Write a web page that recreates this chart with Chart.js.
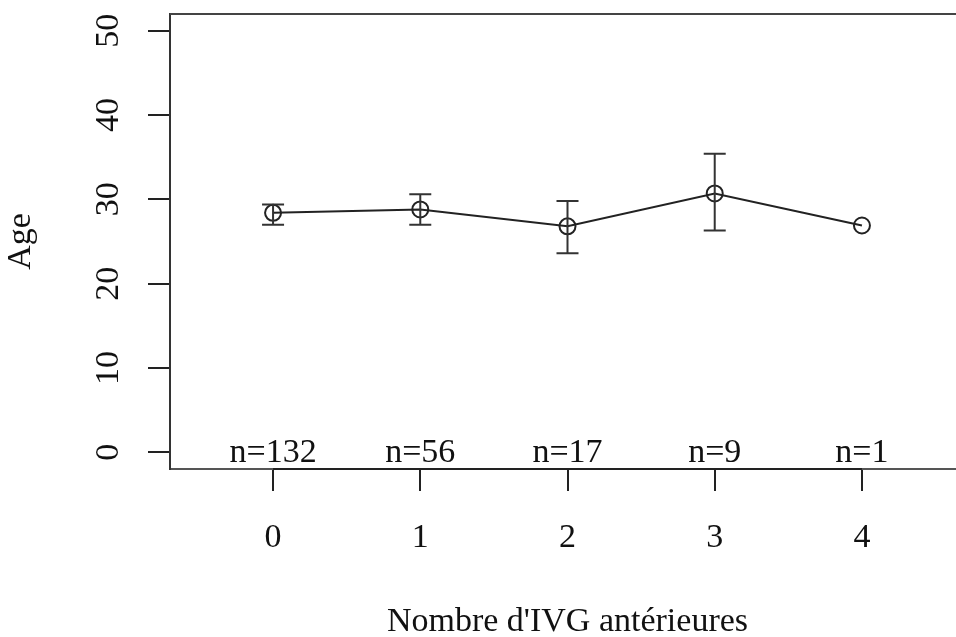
<!DOCTYPE html>
<html lang="fr">
<head>
    <meta charset="UTF-8">
    <title>Age selon le nombre d'IVG antérieures</title>
    <script src="https://cdn.jsdelivr.net/npm/chart.js"></script>
    <style>
        body { margin: 0; overflow: hidden; background: #fff; }
        #graf { display: block; }
    </style>
</head>
<body>
    <canvas id="graf" width="980" height="637" style="width:980px;height:637px"></canvas>

    <script>
        // données
        const categories = ['0', '1', '2', '3', '4'];
        const moyennes = [28.4, 28.8, 26.8, 30.7, 26.9];
        const bornesBasses = [27.0, 27.0, 23.6, 26.3, null];
        const bornesHautes = [29.4, 30.6, 29.8, 35.4, null];
        const effectifs = [132, 56, 17, 9, 1];
        const yTicks = [0, 10, 20, 30, 40, 50];

        const police = "'Liberation Serif', 'Times New Roman', serif";
        const encre = '#222';

        // barres d'erreur, cadre et étiquettes n=...
        const extras = {
            id: 'extras',
            afterDatasetsDraw(chart) {
                const ctx = chart.ctx;
                const xs = chart.scales.x, ys = chart.scales.y;
                const area = chart.chartArea;
                ctx.save();
                ctx.strokeStyle = '#333';
                ctx.lineWidth = 2;
                categories.forEach((c, i) => {
                    if (bornesBasses[i] == null) return;
                    const px = xs.getPixelForValue(i);
                    const yb = ys.getPixelForValue(bornesBasses[i]);
                    const yh = ys.getPixelForValue(bornesHautes[i]);
                    ctx.beginPath();
                    ctx.moveTo(px, yb); ctx.lineTo(px, yh);
                    ctx.moveTo(px - 11, yb); ctx.lineTo(px + 11, yb);
                    ctx.moveTo(px - 11, yh); ctx.lineTo(px + 11, yh);
                    ctx.stroke();
                });
                // haut du cadre
                ctx.strokeStyle = '#444';
                ctx.beginPath();
                ctx.moveTo(area.left, area.top); ctx.lineTo(area.right, area.top);
                ctx.lineTo(area.right, area.bottom);
                ctx.stroke();
                // ligne de l'axe entre la première et la dernière graduation
                ctx.strokeStyle = encre;
                ctx.beginPath();
                ctx.moveTo(xs.getPixelForValue(0), area.bottom);
                ctx.lineTo(xs.getPixelForValue(categories.length - 1), area.bottom);
                ctx.stroke();
                // effectifs
                ctx.fillStyle = '#111';
                ctx.font = '34px ' + police;
                ctx.textAlign = 'center';
                ctx.textBaseline = 'alphabetic';
                effectifs.forEach((n, i) => {
                    ctx.fillText('n=' + n, xs.getPixelForValue(i), area.bottom - 7);
                });
                ctx.restore();
            }
        };

        const ctxGraf = document.getElementById('graf').getContext('2d');
        new Chart(ctxGraf, {
            type: 'line',
            data: {
                datasets: [{
                    data: moyennes.map((m, i) => ({ x: i, y: m })),
                    borderColor: encre,
                    borderWidth: 2,
                    backgroundColor: 'rgba(0,0,0,0)',
                    pointStyle: 'circle',
                    pointRadius: 8,
                    pointBorderWidth: 2,
                    pointBorderColor: encre,
                    pointBackgroundColor: 'rgba(0,0,0,0)',
                    tension: 0
                }]
            },
            options: {
                responsive: false,
                animation: false,
                layout: { padding: { top: 14, right: 15, left: 0, bottom: 0 } },
                plugins: {
                    legend: { display: false },
                    tooltip: { enabled: false }
                },
                scales: {
                    x: {
                        type: 'linear',
                        min: -0.7,
                        max: 4.7,
                        afterBuildTicks: s => { s.ticks = categories.map((c, i) => ({ value: i })); },
                        afterFit: s => { s.height = 168; s.paddingLeft = 0; s.paddingRight = 0; },
                        grid: { drawOnChartArea: false, drawTicks: true, tickLength: 22, color: encre, lineWidth: 2 },
                        border: { display: true, color: '#555', width: 2 },
                        ticks: {
                            color: '#111',
                            padding: 27,
                            maxRotation: 0,
                            font: { family: police, size: 34 },
                            callback: (v, i) => categories[i]
                        },
                        title: {
                            display: true,
                            text: "Nombre d'IVG antérieures",
                            color: '#111',
                            font: { family: police, size: 34, lineHeight: 0.9 },
                            padding: 0
                        }
                    },
                    y: {
                        min: -2,
                        max: 52,
                        afterBuildTicks: s => { s.ticks = yTicks.map(v => ({ value: v })); },
                        afterFit: s => { s.width = 170; s.paddingTop = 0; s.paddingBottom = 0; },
                        grid: { drawOnChartArea: false, drawTicks: true, tickLength: 22, color: encre, lineWidth: 2 },
                        border: { display: true, color: '#333', width: 2 },
                        ticks: {
                            color: '#111',
                            padding: 22,
                            minRotation: 90,
                            maxRotation: 90,
                            crossAlign: 'center',
                            font: { family: police, size: 34 }
                        },
                        title: {
                            display: true,
                            text: 'Age',
                            color: '#111',
                            font: { family: police, size: 34, lineHeight: 1.2 },
                            padding: { top: 1, bottom: 0 }
                        }
                    }
                }
            },
            plugins: [extras]
        });
    </script>
</body>
</html>
